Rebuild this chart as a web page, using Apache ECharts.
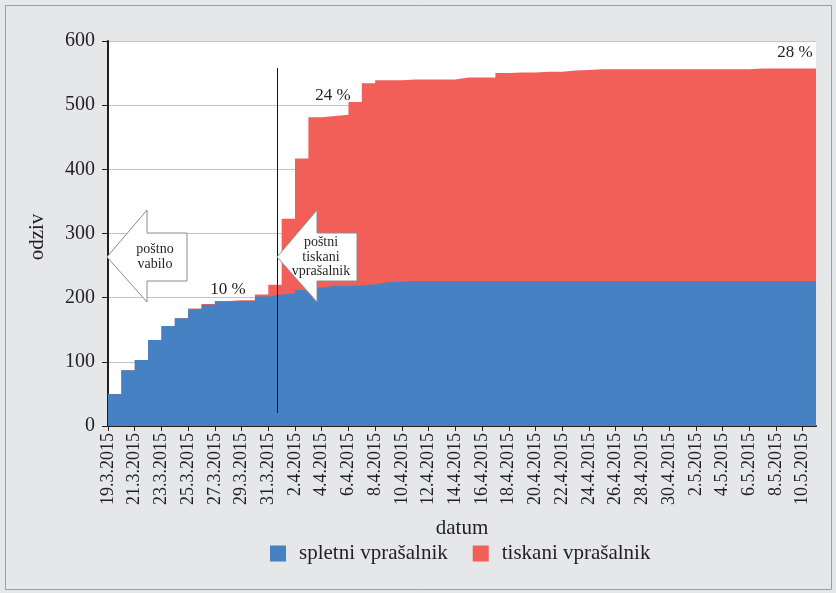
<!DOCTYPE html>
<html>
<head>
<meta charset="UTF-8"/>
<title>odziv</title>
<script src="https://cdn.jsdelivr.net/npm/echarts@6/dist/echarts.min.js"></script>
<style>
html, body { margin: 0; padding: 0; background: #e6e7e8; }
#chart { width: 836px; height: 593px; }
</style>
</head>
<body>
<div id="chart"></div>
<script>
// datumi (dnevno, od 19.3. do 11.5.2015)
var dates = [
  '19.3.2015','20.3.2015','21.3.2015','22.3.2015','23.3.2015','24.3.2015','25.3.2015',
  '26.3.2015','27.3.2015','28.3.2015','29.3.2015','30.3.2015','31.3.2015','1.4.2015',
  '2.4.2015','3.4.2015','4.4.2015','5.4.2015','6.4.2015','7.4.2015','8.4.2015',
  '9.4.2015','10.4.2015','11.4.2015','12.4.2015','13.4.2015','14.4.2015','15.4.2015',
  '16.4.2015','17.4.2015','18.4.2015','19.4.2015','20.4.2015','21.4.2015','22.4.2015',
  '23.4.2015','24.4.2015','25.4.2015','26.4.2015','27.4.2015','28.4.2015','29.4.2015',
  '30.4.2015','1.5.2015','2.5.2015','3.5.2015','4.5.2015','5.5.2015','6.5.2015',
  '7.5.2015','8.5.2015','9.5.2015','10.5.2015','11.5.2015'
];
// spletni vprasalnik (kumulativno)
var spletni = [
  50, 87, 103, 134, 156, 168, 182, 189, 194, 195, 195, 202, 205, 207,
  212, 216, 218, 218, 219, 221, 224, 225, 226, 226, 226, 226, 226, 226,
  226, 226, 226, 226, 226, 226, 226, 226, 226, 226, 226, 226, 226, 226,
  226, 226, 226, 226, 226, 226, 226, 226, 226, 226, 226, 226
];
// tiskani vprasalnik (kumulativno)
var tiskani = [
  0, 0, 0, 0, 0, 0, 1, 1, 1, 1, 1, 3, 15, 116,
  205, 265, 265, 267, 286, 313, 315, 314, 314, 314, 314, 314, 317, 317,
  317, 324, 325, 325, 326, 326, 328, 329, 330, 330, 330, 330, 330, 330,
  330, 330, 330, 330, 330, 330, 331, 331, 331, 331, 331, 331
];
var yTicks = [0, 100, 200, 300, 400, 500, 600];

// skupaj = spletni + tiskani (rdece polje sega od 0 do vsote, modro ga prekrije)
var skupaj = spletni.map(function (v, i) { return v + tiskani[i]; });

var font = 'Liberation Serif';
var ink = '#231f20';
var blue = '#4581c3';
var red = '#f15f58';

var myChart = echarts.init(document.getElementById('chart'));

// puščica levo (konica, glava, telo)
function arrow(tipX, tipY, headX, bodyR, lines, textX) {
  return [{
    type: 'polygon',
    z: 100,
    shape: {
      points: [
        [tipX, tipY], [headX, tipY - 47], [headX, tipY - 24], [bodyR, tipY - 24],
        [bodyR, tipY + 24], [headX, tipY + 24], [headX, tipY + 45]
      ]
    },
    style: { fill: '#fff', stroke: '#8c8c8c', lineWidth: 1 }
  }, {
    type: 'text',
    z: 101,
    x: textX,
    y: tipY,
    style: {
      text: lines,
      font: '14px "' + font + '"',
      fill: ink,
      align: 'center',
      verticalAlign: 'middle',
      lineHeight: 14.5
    }
  }];
}

var option = {
  backgroundColor: '#e6e7e8',
  animation: false,
  grid: {
    left: 108, right: 20, top: 41, bottom: 167,
    show: true, backgroundColor: '#ffffff', borderWidth: 0
  },
  legend: {
    left: 265, top: 538,
    icon: 'rect', itemWidth: 16, itemHeight: 16, itemGap: 25,
    textStyle: { fontFamily: font, fontSize: 21, color: ink, padding: [0, 0, 0, 8] },
    data: ['spletni vprašalnik', 'tiskani vprašalnik']
  },
  xAxis: {
    type: 'category',
    data: dates,
    boundaryGap: false,
    name: 'datum',
    nameLocation: 'middle',
    nameGap: 92,
    nameTextStyle: { fontFamily: font, fontSize: 21, color: ink },
    axisLine: { lineStyle: { color: '#231f20', width: 2 } },
    axisTick: { interval: 1, length: 5, lineStyle: { color: '#231f20' } },
    axisLabel: {
      interval: 1, rotate: 90, margin: 7,
      fontFamily: font, fontSize: 18, color: ink
    },
    splitLine: { show: false }
  },
  yAxis: {
    type: 'value',
    min: yTicks[0], max: yTicks[yTicks.length - 1], interval: 100,
    axisLine: { show: true, lineStyle: { color: '#231f20', width: 2 } },
    axisTick: { show: true, length: 6, lineStyle: { color: '#231f20' } },
    axisLabel: { margin: 13, fontFamily: font, fontSize: 20, color: ink },
    splitLine: { lineStyle: { color: '#c4c4c4', width: 1 } }
  },
  series: [{
    name: 'tiskani vprašalnik',
    type: 'line',
    step: 'end',
    data: skupaj,
    z: 2,
    showSymbol: false,
    itemStyle: { color: red },
    lineStyle: { width: 0 },
    areaStyle: { color: red, opacity: 1 }
  }, {
    name: 'spletni vprašalnik',
    type: 'line',
    step: 'end',
    data: spletni,
    z: 3,
    showSymbol: false,
    itemStyle: { color: blue },
    lineStyle: { width: 0 },
    areaStyle: { color: blue, opacity: 1 }
  }],
  graphic: [].concat(
    [{
      type: 'rect',
      z: -1,
      shape: { x: 5.5, y: 5.5, width: 826, height: 584 },
      style: { fill: 'none', stroke: '#9d9d9d', lineWidth: 1 }
    }, {
      type: 'text', z: 101, x: 37, y: 237, rotation: Math.PI / 2,
      style: { text: 'odziv', font: '21px "' + font + '"', fill: ink, align: 'center', verticalAlign: 'middle' }
    }, {
      type: 'line',
      z: 99,
      shape: { x1: 277.5, y1: 68, x2: 277.5, y2: 413 },
      style: { stroke: '#111', lineWidth: 1 }
    }, {
      type: 'text', z: 101, x: 228, y: 290,
      style: { text: '10 %', font: '17px "' + font + '"', fill: ink, align: 'center', verticalAlign: 'middle' }
    }, {
      type: 'text', z: 101, x: 333, y: 96,
      style: { text: '24 %', font: '17px "' + font + '"', fill: ink, align: 'center', verticalAlign: 'middle' }
    }, {
      type: 'text', z: 101, x: 795, y: 53,
      style: { text: '28 %', font: '17px "' + font + '"', fill: ink, align: 'center', verticalAlign: 'middle' }
    }],
    arrow(107, 257, 147, 187, 'poštno\nvabilo', 155),
    arrow(277, 257, 317, 357, 'poštni\ntiskani\nvprašalnik', 321)
  )
};

if (option && typeof option === "object") {
  myChart.setOption(option, true);
}
</script>
</body>
</html>
